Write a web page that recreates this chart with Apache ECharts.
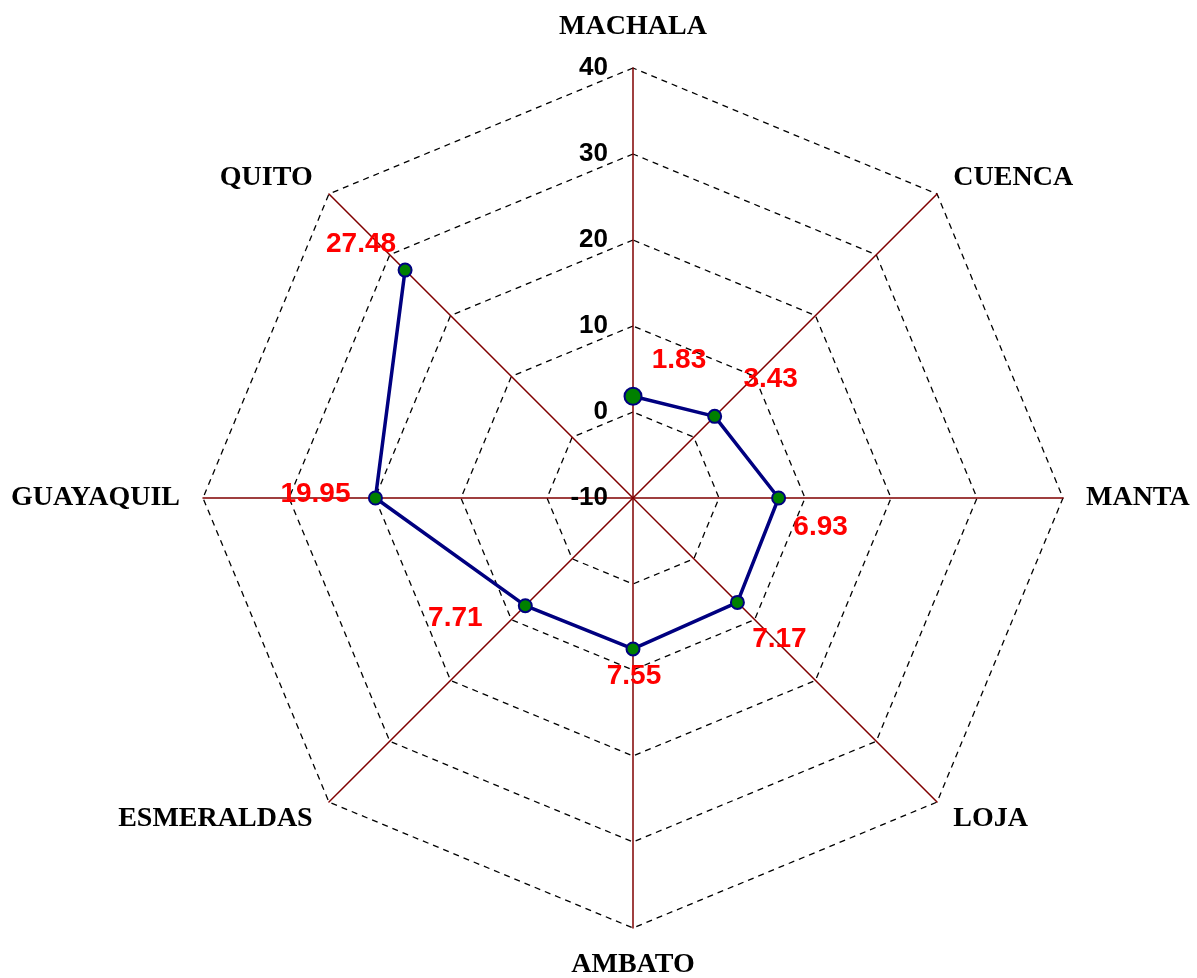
<!DOCTYPE html>
<html>
<head>
<meta charset="utf-8">
<title>Radar</title>
<script src="https://cdn.jsdelivr.net/npm/echarts@6/dist/echarts.min.js"></script>
<style>
  html, body { margin: 0; padding: 0; background: #fff; }
  #chart { width: 1197px; height: 978px; }
</style>
</head>
<body>
<div id="chart"></div>
<script>
// Cities clockwise from the top, as in the original
const cities = ['MACHALA', 'CUENCA', 'MANTA', 'LOJA', 'AMBATO', 'ESMERALDAS', 'GUAYAQUIL', 'QUITO'];
const values = [1.83, 3.43, 6.93, 7.17, 7.55, 7.71, 19.95, 27.48];

// Radial scale
const axisMin = -10;
const axisMax = 40;
const ticks = [-10, 0, 10, 20, 30, 40];

// Nudges (px) for the red value labels, same order as cities
const labelShift = [[46, -36], [56, -37], [42, 29], [42, 37], [1, 27], [-70, 13], [-60, -4], [-44, -26]];

const CENTER = [633, 498];
const RADIUS = 430;

const chart = echarts.init(document.getElementById('chart'));

// radar lays its indicators out counter-clockwise, so flip all but the first
const radarOrder = [cities[0]].concat(cities.slice(1).reverse());
const indicators = radarOrder.map(function (name, i) {
    const ind = { name: name, min: axisMin, max: axisMax };
    // tick values only on the top axis
    if (i > 0) {
        ind.axisLabel = { show: false };
    }
    return ind;
});

const option = {
    backgroundColor: '#fff',
    animation: false,
    // radar only draws the web: spokes, dashed rings and names
    radar: {
        center: CENTER,
        radius: RADIUS,
        startAngle: 90,
        shape: 'polygon',
        splitNumber: ticks.length - 1,
        indicator: indicators,
        axisNameGap: 23,
        axisName: {
            color: '#000',
            fontFamily: 'Liberation Serif',
            fontWeight: 'bold',
            fontSize: 28,
            formatter: function (name) {
                return name === cities[0] ? '{up|' + name + '}' : name;
            },
            rich: {
                up: {
                    fontFamily: 'Liberation Serif',
                    fontWeight: 'bold',
                    fontSize: 28,
                    color: '#000',
                    padding: [0, 0, 4, 0]
                }
            }
        },
        axisLine: {
            lineStyle: { color: '#800000', width: 1.5 }
        },
        axisTick: { show: false },
        axisLabel: {
            show: true,
            color: '#000',
            fontFamily: 'Liberation Sans',
            fontWeight: 'bold',
            fontSize: 26,
            margin: 25
        },
        splitLine: {
            lineStyle: { color: '#000', width: 1.3, type: [6, 5] }
        },
        splitArea: { show: false }
    },
    // polar on the same spot carries the open polyline
    polar: {
        center: CENTER,
        radius: RADIUS
    },
    angleAxis: {
        type: 'category',
        data: cities,
        boundaryGap: true,
        startAngle: 90 + 180 / cities.length,
        clockwise: true,
        axisLine: { show: false },
        axisTick: { show: false },
        axisLabel: { show: false },
        splitLine: { show: false }
    },
    radiusAxis: {
        type: 'value',
        min: axisMin,
        max: axisMax,
        axisLine: { show: false },
        axisTick: { show: false },
        axisLabel: { show: false },
        splitLine: { show: false }
    },
    series: [{
        type: 'line',
        coordinateSystem: 'polar',
        data: values,
        symbol: 'circle',
        symbolSize: function (v, params) {
            return params.dataIndex === 0 ? 17 : 13;
        },
        lineStyle: { color: '#000080', width: 3.5 },
        itemStyle: { color: '#008000', borderColor: '#000080', borderWidth: 2 },
        label: {
            show: true,
            position: 'inside',
            color: '#ff0000',
            fontFamily: 'Liberation Sans',
            fontWeight: 'bold',
            fontSize: 28
        },
        labelLayout: function (params) {
            const s = labelShift[params.dataIndex];
            return s ? { dx: s[0], dy: s[1] } : {};
        }
    }]
};

chart.setOption(option);
</script>
</body>
</html>
